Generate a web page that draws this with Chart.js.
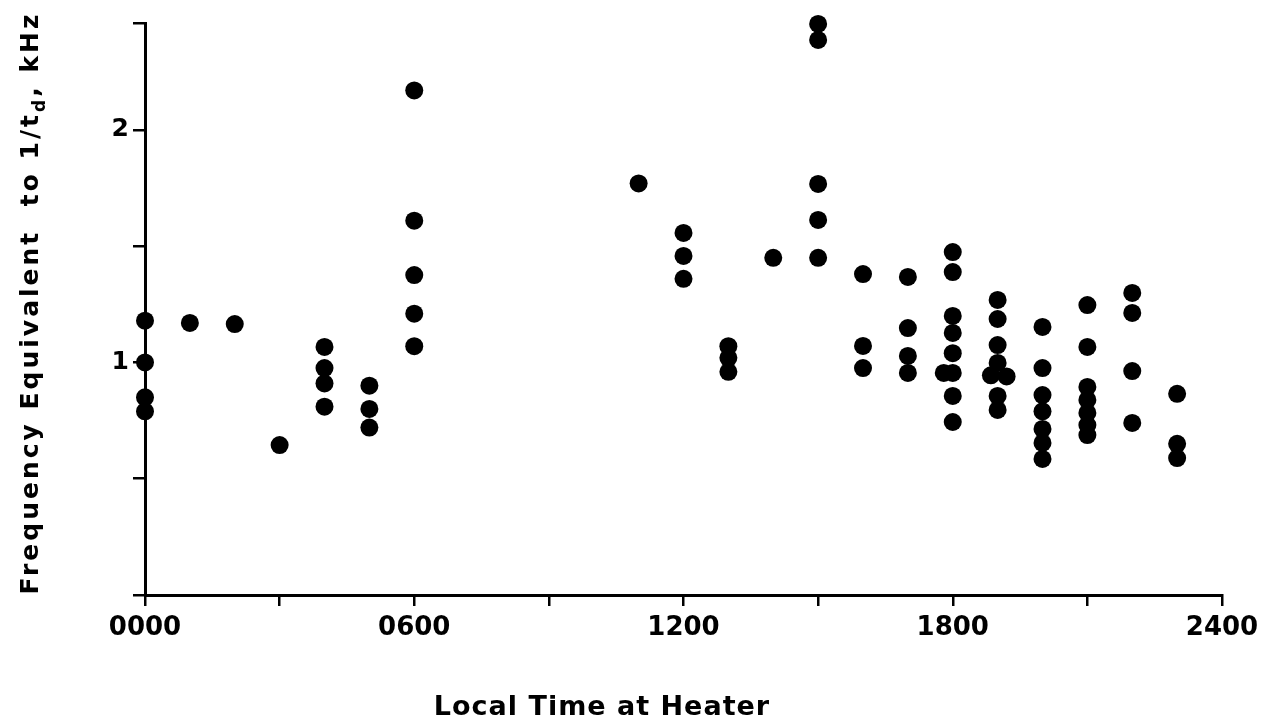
<!DOCTYPE html>
<html>
<head>
<meta charset="utf-8">
<script src="https://cdn.jsdelivr.net/npm/chart.js@4.4.1/dist/chart.umd.min.js"></script>
<style>
  html, body { margin: 0; padding: 0; background: #fff; }
  #wrap { width: 1261px; height: 719px; }
</style>
</head>
<body>
<div id="wrap"><canvas id="grafico"></canvas></div>
<script>
// hora local (hhmm) de cada medida
const tempos = [
    0, 0, 0, 0,
    100, 200, 300,
    400, 400, 400, 400,
    500, 500, 500,
    600, 600, 600, 600, 600,
    1100,
    1200, 1200, 1200,
    1300, 1300, 1300,
    1400,
    1500, 1500, 1500, 1500, 1500,
    1600, 1600, 1600,
    1700, 1700, 1700, 1700,
    1800, 1800, 1800, 1800, 1800, 1800, 1800, 1800, 1780,
    1900, 1900, 1900, 1900, 1900, 1900, 1885, 1920,
    2000, 2000, 2000, 2000, 2000, 2000, 2000,
    2100, 2100, 2100, 2100, 2100, 2100, 2100,
    2200, 2200, 2200, 2200,
    2300, 2300, 2300
];

// frequencia equivalente a 1/td em kHz
const frequencias = [
    1.18, 1.00, 0.85, 0.79,
    1.17, 1.165, 0.645,
    1.067, 0.976, 0.91, 0.81,
    0.90, 0.80, 0.72,
    2.17, 1.61, 1.376, 1.21, 1.07,
    1.77,
    1.557, 1.458, 1.36,
    1.07, 1.02, 0.96,
    1.45,
    2.456, 2.387, 1.768, 1.613, 1.45,
    1.38, 1.071, 0.976,
    1.368, 1.148, 1.028, 0.955,
    1.475, 1.389, 1.20, 1.127, 1.04, 0.955, 0.856, 0.744, 0.955,
    1.269, 1.187, 1.075, 0.998, 0.856, 0.796, 0.945, 0.94,
    1.153, 0.976, 0.86, 0.79, 0.714, 0.654, 0.585,
    1.247, 1.067, 0.895, 0.839, 0.783, 0.731, 0.688,
    1.299, 1.213, 0.963, 0.74,
    0.865, 0.65, 0.589
];

const ticksX = [0, 300, 600, 900, 1200, 1500, 1800, 2100, 2400];
const rotulosX = { 0: '0000', 600: '0600', 1200: '1200', 1800: '1800', 2400: '2400' };
const ticksY = [0, 0.5, 1, 1.5, 2, 2.46];
const rotulosY = { 1: '1', 2: '2' };

const fonte = '"DejaVu Sans", sans-serif';

const pontos = tempos.map((t, i) => ({ x: t, y: frequencias[i] }));

// titulos desenhados a mao (subscrito do "d")
const titulosPlugin = {
    id: 'titulos',
    beforeDraw(chart) {
        const ctx = chart.ctx;
        ctx.save();
        ctx.fillStyle = '#fff';
        ctx.fillRect(0, 0, chart.width, chart.height);
        ctx.restore();
    },
    afterDraw(chart) {
        const ctx = chart.ctx;
        ctx.save();
        ctx.fillStyle = '#000';
        ctx.textBaseline = 'alphabetic';

        // eixo x
        ctx.letterSpacing = '1px';
        ctx.font = 'bold 27px ' + fonte;
        ctx.textAlign = 'center';
        ctx.fillText('Local Time at Heater', 602, 715);

        // eixo y
        ctx.letterSpacing = '3px';
        ctx.textAlign = 'left';
        const p1 = 'Frequency Equivalent  to 1/t';
        const p2 = 'd';
        const p3 = ', kHz';
        ctx.font = 'bold 25px ' + fonte;
        const w1 = ctx.measureText(p1).width;
        const w3 = ctx.measureText(p3).width;
        ctx.font = 'bold 17px ' + fonte;
        const w2 = ctx.measureText(p2).width;
        const total = w1 + w2 + w3;
        ctx.translate(38, 303);
        ctx.rotate(-Math.PI / 2);
        let x = -total / 2;
        ctx.font = 'bold 25px ' + fonte;
        ctx.fillText(p1, x, 0);
        x += w1;
        ctx.font = 'bold 17px ' + fonte;
        ctx.fillText(p2, x, 7);
        x += w2;
        ctx.font = 'bold 25px ' + fonte;
        ctx.fillText(p3, x, 0);
        ctx.restore();
    }
};

new Chart(document.getElementById('grafico'), {
    type: 'scatter',
    data: {
        datasets: [{
            data: pontos,
            backgroundColor: '#000',
            borderWidth: 0,
            pointRadius: 9,
            pointHoverRadius: 9,
            clip: false
        }]
    },
    options: {
        responsive: true,
        maintainAspectRatio: false,
        animation: false,
        layout: { padding: { left: 0, right: 39, top: 23, bottom: 0 } },
        plugins: {
            legend: false,
            tooltip: { enabled: false }
        },
        scales: {
            x: {
                type: 'linear',
                min: 0,
                max: 2400,
                afterFit(scale) {
                    scale.height = 124;
                    scale.paddingLeft = 0;
                    scale.paddingRight = 0;
                },
                afterBuildTicks(scale) {
                    scale.ticks = ticksX.map(v => ({ value: v }));
                },
                border: { display: true, color: '#000', width: 3 },
                grid: {
                    drawOnChartArea: false,
                    drawTicks: true,
                    tickLength: 11,
                    color: '#000',
                    lineWidth: 2.5
                },
                ticks: {
                    autoSkip: false,
                    maxRotation: 0,
                    padding: 7,
                    color: '#000',
                    font: { family: fonte, size: 26, weight: 'bold' },
                    callback: v => rotulosX[v] || ''
                }
            },
            y: {
                type: 'linear',
                min: 0,
                max: 2.46,
                afterFit(scale) {
                    scale.width = 145;
                    scale.paddingTop = 0;
                    scale.paddingBottom = 0;
                },
                afterBuildTicks(scale) {
                    scale.ticks = ticksY.map(v => ({ value: v }));
                },
                border: { display: true, color: '#000', width: 3 },
                grid: {
                    drawOnChartArea: false,
                    drawTicks: true,
                    tickLength: 12,
                    color: '#000',
                    lineWidth: 2.5
                },
                ticks: {
                    autoSkip: false,
                    padding: 4,
                    color: '#000',
                    font: { family: fonte, size: 25, weight: 'bold' },
                    callback: v => rotulosY[v] || ''
                }
            }
        }
    },
    plugins: [titulosPlugin]
});
</script>
</body>
</html>
